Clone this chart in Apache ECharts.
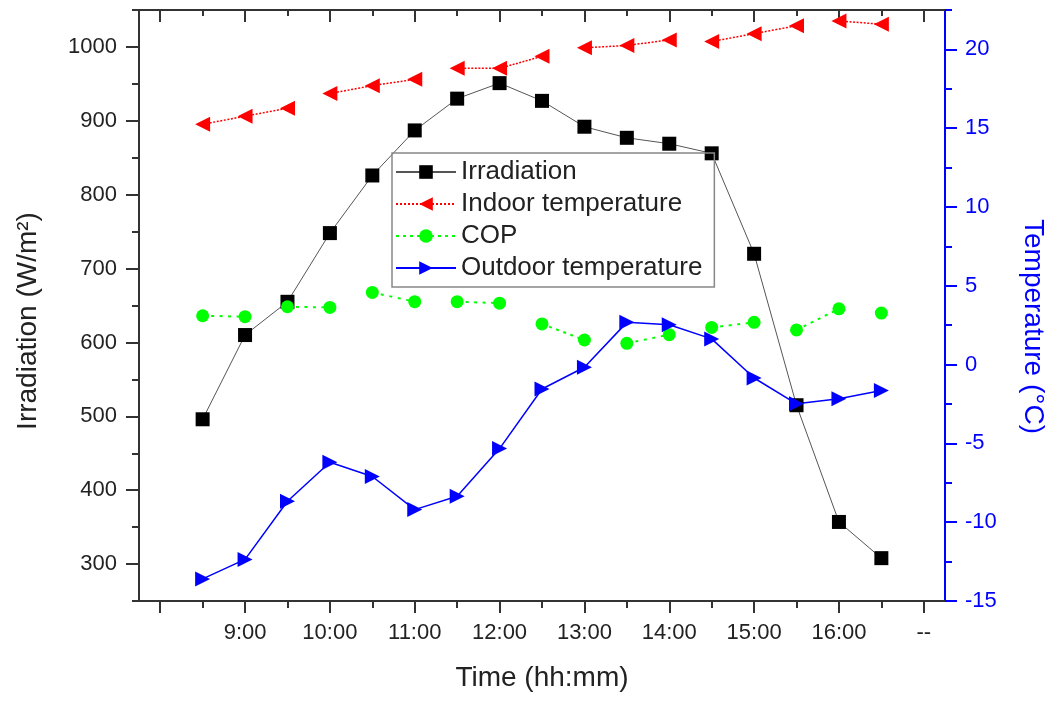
<!DOCTYPE html>
<html><head><meta charset="utf-8">
<script src="https://cdn.jsdelivr.net/npm/echarts@6/dist/echarts.min.js"></script>
<style>html,body{margin:0;padding:0;background:#fff}#c{width:1055px;height:702px}</style>
</head><body><div id="c"></div>
<script>
// ---- data ----
const timeHours = [8.5, 9, 9.5, 10, 10.5, 11, 11.5, 12, 12.5, 13, 13.5, 14, 14.5, 15, 15.5, 16, 16.5];
const irradiation = [496, 610, 655, 748, 826, 887, 930, 951, 927, 892, 877, 869, 856, 720, 515, 357, 308];
const indoorTemp = [15.25, 15.76, 16.27, 17.2, 17.7, 18.1, 18.8, 18.8, 19.56, 20.1, 20.25, 20.6, 20.5, 21.0, 21.5, 21.8, 21.6];
const cop = [3.10, 3.04, 3.67, 3.63, 4.58, 3.99, 3.99, 3.90, 2.58, 1.56, 1.35, 1.90, 2.36, 2.68, 2.20, 3.54, 3.27];
const outdoorTemp = [-13.6, -12.36, -8.67, -6.2, -7.1, -9.2, -8.35, -5.33, -1.55, -0.17, 2.68, 2.53, 1.63, -0.85, -2.49, -2.17, -1.64];

const xMajorTicks = [8, 9, 10, 11, 12, 13, 14, 15, 16, 17];
const xMinorTicks = [8.5, 9.5, 10.5, 11.5, 12.5, 13.5, 14.5, 15.5, 16.5];
const xLabelValues = [9, 10, 11, 12, 13, 14, 15, 16, 17];
const xLabelTexts = ['9:00', '10:00', '11:00', '12:00', '13:00', '14:00', '15:00', '16:00', '--'];
const yLeftMajor = [300, 400, 500, 600, 700, 800, 900, 1000];
const yLeftMinor = [250, 350, 450, 550, 650, 750, 850, 950, 1050];
const yRightMajor = [-15, -10, -5, 0, 5, 10, 15, 20];
const yRightMinor = [-12.5, -7.5, -2.5, 2.5, 7.5, 12.5, 17.5, 22.5];
// which connecting segments of the dotted lines are drawn in the original
const indoorSegOn = [1, 1, 0, 1, 1, 0, 1, 1, 0, 1, 1, 0, 1, 1, 0, 1];
const copSegOn = [1, 0, 1, 0, 1, 0, 1, 0, 1, 0, 1, 0, 1, 0, 1, 0];

const FONT = 'Liberation Sans, Arial, sans-serif';
const DARK = '#333';
const TXT = '#222';
const BLUE = '#0000ff';

const chart = echarts.init(document.getElementById('c'), null, {renderer: 'canvas'});
const pairs = ys => timeHours.map((t, i) => [t, ys[i]]);

function xAx(pos, ticks, len, inside, extra) {
  return Object.assign({
    type: 'value', position: pos, min: 7.75, max: 17.25,
    axisLine: {show: true, onZero: false, lineStyle: {color: DARK, width: 2}},
    axisTick: {show: true, inside: inside, length: len, customValues: ticks, lineStyle: {color: DARK, width: 2}},
    axisLabel: {show: false},
    splitLine: {show: false}
  }, extra || {});
}
function yAx(pos, min, max, ticks, len, color, extra) {
  return Object.assign({
    type: 'value', position: pos, min: min, max: max,
    axisLine: {show: true, onZero: false, lineStyle: {color: color, width: 2}},
    axisTick: {show: true, inside: false, length: len, customValues: ticks, lineStyle: {color: color, width: 2}},
    axisLabel: {show: false},
    splitLine: {show: false}
  }, extra || {});
}

const option = {
  animation: false,
  textStyle: {fontFamily: FONT},
  grid: {left: 139, right: 110, top: 10, bottom: 101, containLabel: false},
  xAxis: [
    xAx('bottom', xMajorTicks, 12, false, {
      axisLabel: {show: true, customValues: xLabelValues, fontSize: 22, color: TXT, margin: 21, fontFamily: FONT,
        formatter: v => xLabelTexts[xLabelValues.indexOf(v)]},
      name: 'Time (hh:mm)', nameLocation: 'middle', nameGap: 63,
      nameTextStyle: {fontSize: 28, color: TXT, fontFamily: FONT}
    }),
    xAx('bottom', xMinorTicks, 7, false),
    xAx('top', xMajorTicks, 12, true),
    xAx('top', xMinorTicks, 6, true)
  ],
  yAxis: [
    yAx('left', 250, 1050, yLeftMajor, 13, DARK, {
      axisLabel: {show: true, customValues: yLeftMajor, fontSize: 22, color: TXT, margin: 22, fontFamily: FONT,
        formatter: v => String(v)},
      name: 'Irradiation (W/m²)', nameLocation: 'middle', nameGap: 97,
      nameTextStyle: {fontSize: 28, color: TXT, fontFamily: FONT, padding: [0, 31, 0, 0]}
    }),
    yAx('left', 250, 1050, yLeftMinor, 7, DARK),
    yAx('right', -15, 22.5, yRightMajor, 12, BLUE, {
      axisLabel: {show: true, customValues: yRightMajor, fontSize: 22, color: BLUE, margin: 20, fontFamily: FONT,
        formatter: v => String(v)},
      name: 'Temperature (°C)', nameLocation: 'middle', nameGap: 74, nameRotate: -90,
      nameTextStyle: {fontSize: 28, color: BLUE, fontFamily: FONT, padding: [0, 0, 0, 42]}
    }),
    yAx('right', -15, 22.5, yRightMinor, 7, BLUE)
  ],
  legend: {
    orient: 'vertical', left: 392, top: 153,
    padding: [6, 12, 6, 3],
    itemWidth: 60, itemHeight: 17, itemGap: 6,
    borderColor: '#888', borderWidth: 1.5,
    textStyle: {fontSize: 26, color: TXT, fontFamily: FONT},
    data: [
      {name: 'Irradiation'},
      {name: 'Indoor temperature', lineStyle: {type: 'dotted'}},
      {name: 'COP', lineStyle: {type: [3, 4]}},
      {name: 'Outdoor temperature'}
    ]
  },
  series: [
    {name: 'Irradiation', type: 'line', xAxisIndex: 0, yAxisIndex: 0, data: pairs(irradiation),
      symbol: 'rect', symbolSize: 14, itemStyle: {color: '#000'},
      lineStyle: {color: '#555', width: 1}},
    {name: 'Indoor temperature', type: 'line', xAxisIndex: 0, yAxisIndex: 2, data: pairs(indoorTemp),
      symbol: 'triangle', symbolRotate: 90, symbolSize: 15, itemStyle: {color: '#ff0000'},
      lineStyle: {color: '#ff0000', width: 1.5, type: 'dotted'}},
    {name: 'COP', type: 'line', xAxisIndex: 0, yAxisIndex: 2, data: pairs(cop),
      symbol: 'circle', symbolSize: 13, itemStyle: {color: '#00ff00'},
      lineStyle: {color: '#00ff00', width: 2, type: [3, 4]}},
    {name: 'Outdoor temperature', type: 'line', xAxisIndex: 0, yAxisIndex: 2, data: pairs(outdoorTemp),
      symbol: 'triangle', symbolRotate: -90, symbolSize: 15, itemStyle: {color: BLUE},
      lineStyle: {color: BLUE, width: 1.5}}
  ]
};
chart.setOption(option);

// build dash patterns so that only the segments drawn in the original appear
function buildDash(ys, segOn, dot, gap) {
  const pts = timeHours.map((t, i) => chart.convertToPixel({xAxisIndex: 0, yAxisIndex: 2}, [t, ys[i]]));
  const dash = [];
  for (let i = 0; i < pts.length - 1; i++) {
    const L = Math.hypot(pts[i + 1][0] - pts[i][0], pts[i + 1][1] - pts[i][1]);
    if (segOn[i]) {
      const n = Math.max(1, Math.round(L / (dot + gap)));
      const g = L / n - dot;
      for (let k = 0; k < n; k++) dash.push(dot, g);
    } else {
      dash.push(0, L);
    }
  }
  return dash;
}
chart.setOption({
  series: [
    {},
    {lineStyle: {type: buildDash(indoorTemp, indoorSegOn, 2, 1.5)}},
    {lineStyle: {type: buildDash(cop, copSegOn, 3, 5)}},
    {}
  ]
});
</script>
</body></html>
